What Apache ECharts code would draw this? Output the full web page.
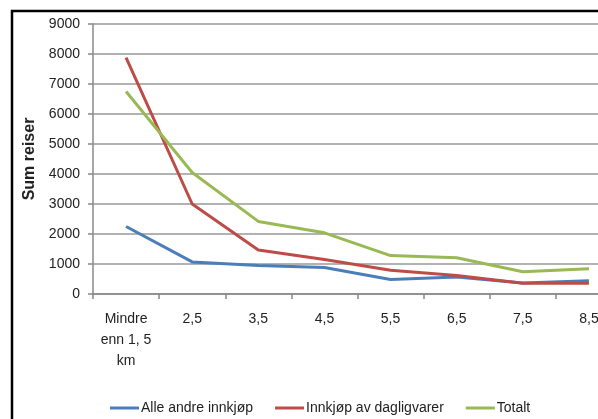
<!DOCTYPE html>
<html><head><meta charset="utf-8">
<script src="https://cdn.jsdelivr.net/npm/echarts@6/dist/echarts.min.js"></script>
<style>html,body{margin:0;padding:0;background:#fff}#c{width:598px;height:419px}</style>
</head><body><div id="c"></div>
<script>
const categories = ['Mindre\nenn 1, 5\nkm', '2,5', '3,5', '4,5', '5,5', '6,5', '7,5', '8,5'];
const alleAndre = [2250, 1070, 950, 880, 480, 570, 370, 440];
const dagligvarer = [7880, 3000, 1470, 1150, 790, 620, 360, 360];
const totalt = [6750, 4050, 2420, 2040, 1280, 1210, 740, 840];
const yTicks = [0, 1000, 2000, 3000, 4000, 5000, 6000, 7000, 8000, 9000];

const chart = echarts.init(document.getElementById('c'), null, {renderer: 'canvas'});
const font = 'Liberation Sans, Arial, sans-serif';
function line(name, data, color) {
  return {name, type: 'line', data, symbol: 'none', smooth: false,
    lineStyle: {color, width: 3}, itemStyle: {color}};
}
chart.setOption({
  animation: false,
  textStyle: {fontFamily: font},
  graphic: [{type: 'rect', shape: {x: 12, y: 11, width: 800, height: 600},
    style: {fill: 'none', stroke: '#000', lineWidth: 2.5}, z: 100}],
  grid: {left: 93, top: 24, width: 529, height: 270, containLabel: false, outerBoundsMode: 'none'},
  xAxis: {type: 'category', data: categories, boundaryGap: true,
    axisLine: {lineStyle: {color: '#888', width: 1.5}},
    axisTick: {show: true, length: 5, lineStyle: {color: '#888', width: 1.5}},
    axisLabel: {color: '#222', fontSize: 14, margin: 15, lineHeight: 21, interval: 0}},
  yAxis: {type: 'value', min: yTicks[0], max: yTicks[yTicks.length - 1], interval: 1000,
    name: 'Sum reiser', nameLocation: 'middle', nameGap: 54, nameRotate: 90,
    nameTextStyle: {fontWeight: 'bold', fontSize: 16, color: '#222'},
    axisLine: {show: true, lineStyle: {color: '#888', width: 1.5}},
    axisTick: {show: true, length: 5, lineStyle: {color: '#888', width: 1.5}},
    splitLine: {lineStyle: {color: '#999', width: 1.5}},
    axisLabel: {color: '#222', fontSize: 14, margin: 13, formatter: v => String(v)}},
  legend: {left: 105, top: 396, itemWidth: 29, itemHeight: 3, itemGap: 22, icon: 'rect',
    textStyle: {fontSize: 14, color: '#222', padding: [0, 0, 0, -3]},
    data: ['Alle andre innkjøp', 'Innkjøp av dagligvarer', 'Totalt']},
  series: [
    line('Alle andre innkjøp', alleAndre, '#4a7ebb'),
    line('Innkjøp av dagligvarer', dagligvarer, '#be4b48'),
    line('Totalt', totalt, '#98b954')
  ]
});
</script></body></html>
